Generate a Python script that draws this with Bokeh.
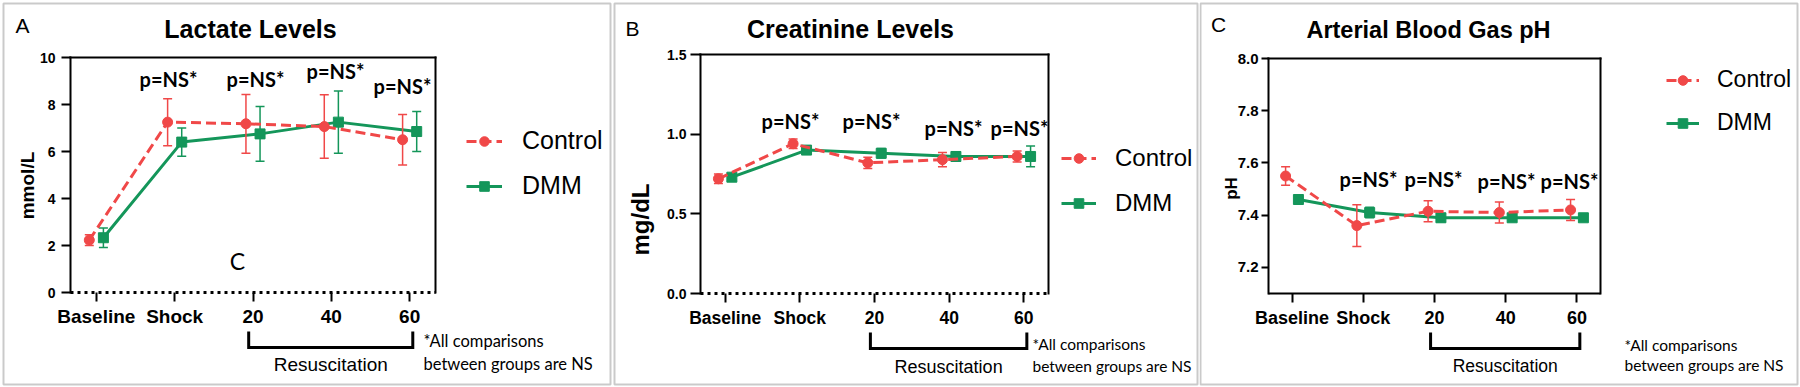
import math
from bokeh.plotting import figure
from bokeh.models import (Range1d, FixedTicker, LinearAxis, Label, Legend, LegendItem,
                          NumeralTickFormatter, BasicTickFormatter, BoxAnnotation)
from bokeh.layouts import row
from bokeh.embed import file_html
from bokeh.resources import INLINE

# ---------------- data ----------------
timepoints = ["Baseline", "Shock", "20", "40", "60"]
resus_span = ("20", "60")
series_names = ["Control", "DMM"]

lactate_control = [2.23, 7.25, 7.18, 7.06, 6.50]
lactate_control_err = [0.23, 1.00, 1.25, 1.35, 1.07]
lactate_dmm = [2.33, 6.40, 6.75, 7.25, 6.85]
lactate_dmm_err = [0.42, 0.60, 1.17, 1.32, 0.85]
lactate_yticks = [0, 2, 4, 6, 8, 10]

creatinine_control = [0.72, 0.94, 0.82, 0.84, 0.86]
creatinine_control_err = [0.03, 0.03, 0.035, 0.045, 0.035]
creatinine_dmm = [0.73, 0.90, 0.88, 0.86, 0.86]
creatinine_dmm_err = [0.02, 0.02, 0.03, 0.03, 0.065]
creatinine_yticks = [0.0, 0.5, 1.0, 1.5]

ph_control = [7.55, 7.36, 7.415, 7.41, 7.42]
ph_control_err = [0.035, 0.08, 0.04, 0.04, 0.04]
ph_dmm = [7.46, 7.41, 7.39, 7.39, 7.39]
ph_dmm_err = [0.015, 0.02, 0.015, 0.01, 0.01]
ph_yticks = [7.2, 7.4, 7.6, 7.8, 8.0]

pvalue_text = "p=NS*"
footnote_lines = ["*All comparisons", "between groups are NS"]
bracket_label = "Resuscitation"

# ---------------- style / layout ----------------
RED = "#F04848"
GREEN = "#14965A"
BORDER = "#505050"
DODGE = 0.09
ARIAL = "Liberation Sans"
CALIBRI = "Lato"
H = 387

panels = [
    dict(fig_x=0, width=612, box=(70, 57, 435, 292), border=(3, 3, 610, 384), yrange=(0, 10),
         yticks=lactate_yticks, yfmt=BasicTickFormatter(), ytick_len=9, ylab_standoff=6, ylab_fs=14,
         xdash="3 4", xlab_fs=19, xlab_standoff=4,
         bracket=(331, 347), br_label_y=364, br_fs=19,
         leg_left=466, leg_bottom=200, glyph_w=36, leg_fs=25, leg_standoff=20, leg_spacing=16,
         title="Lactate Levels", title_xy=(250, 28), title_fs=25,
         letter="A", letter_xy=(22, 25),
         ylabel="mmol/L", ylabel_xy=(27, 185), ylabel_fs=19,
         pns=[(168, 78), (255, 78), (335, 70), (402, 85)],
         foot_x=423, foot_y=(340, 363), foot_fs=16.5,
         extra=[("C", 237, 260, 23)],
         control=lactate_control, control_err=lactate_control_err,
         dmm=lactate_dmm, dmm_err=lactate_dmm_err),
    dict(fig_x=612, width=587, box=(700, 54, 1048, 293), border=(614, 3, 1197, 384), yrange=(0, 1.5),
         yticks=creatinine_yticks, yfmt=NumeralTickFormatter(format="0.0"), ytick_len=10, ylab_standoff=4, ylab_fs=14,
         xdash="3 4", xlab_fs=17.5, xlab_standoff=5,
         bracket=(332, 348), br_label_y=366, br_fs=18,
         leg_left=1061, leg_bottom=217, glyph_w=35, leg_fs=24, leg_standoff=19, leg_spacing=17,
         title="Creatinine Levels", title_xy=(850, 28), title_fs=25,
         letter="B", letter_xy=(632, 28),
         ylabel="mg/dL", ylabel_xy=(640, 219), ylabel_fs=24,
         pns=[(790, 120), (871, 120), (953, 127), (1019, 127)],
         foot_x=1032, foot_y=(343, 365), foot_fs=15.5,
         extra=[],
         control=creatinine_control, control_err=creatinine_control_err,
         dmm=creatinine_dmm, dmm_err=creatinine_dmm_err),
    dict(fig_x=1199, width=601, box=(1268, 58, 1600, 293), border=(1200, 3, 1797, 384), yrange=(7.1, 8.0),
         yticks=ph_yticks, yfmt=NumeralTickFormatter(format="0.0"), ytick_len=7, ylab_standoff=3, ylab_fs=15,
         xdash="solid", xlab_fs=18, xlab_standoff=5,
         bracket=(332, 348), br_label_y=365, br_fs=17.5,
         leg_left=1666, leg_bottom=136, glyph_w=33, leg_fs=23, leg_standoff=18, leg_spacing=16,
         title="Arterial Blood Gas pH", title_xy=(1428, 29), title_fs=23.5,
         letter="C", letter_xy=(1218, 24),
         ylabel="pH", ylabel_xy=(1231, 188), ylabel_fs=17,
         pns=[(1368, 178), (1433, 178), (1506, 180), (1569, 180)],
         foot_x=1624, foot_y=(344, 364), foot_fs=15.5,
         extra=[],
         control=ph_control, control_err=ph_control_err,
         dmm=ph_dmm, dmm_err=ph_dmm_err),
]


def build(cfg):
    fx, W = cfg["fig_x"], cfg["width"]
    bx0, by0, bx1, by1 = cfg["box"]
    xr = (-0.33, 4.33)
    yr = cfg["yrange"]
    kx = (xr[1] - xr[0]) / (bx1 - bx0)
    ky = (yr[1] - yr[0]) / (by1 - by0)

    def dx(rx):
        return xr[0] + (rx - bx0) * kx

    def dy(ry):
        return yr[1] - (ry - by0) * ky

    p = figure(width=W, height=H, output_backend="svg", toolbar_location=None,
               x_range=Range1d(dx(fx), dx(fx + W)), y_range=Range1d(dy(H), dy(0)),
               x_axis_type=None, y_axis_type=None, min_border=0, title_location=None,
               outline_line_color=None, background_fill_color="white",
               border_fill_color="white")

    def text(rx, ry, s, font, size, style="normal", align="left", angle=0.0):
        p.add_layout(Label(x=dx(rx), y=dy(ry), text=s, text_font=font, text_font_size=f"{size}px",
                           text_font_style=style, text_align=align, text_baseline="middle",
                           angle=angle, text_color="black"))

    # panel border
    L, T, R, B = cfg["border"]
    p.add_layout(BoxAnnotation(left=dx(L), right=dx(R), top=dy(T), bottom=dy(B),
                               fill_alpha=0, fill_color=None, line_color=BORDER, line_width=2))

    common = dict(axis_line_color="black", major_tick_line_color="black",
                  minor_tick_line_color=None, major_label_text_color="black",
                  major_label_text_font=ARIAL, major_label_text_font_style="bold")

    yax = LinearAxis(fixed_location=xr[0], bounds=yr,
                     ticker=FixedTicker(ticks=cfg["yticks"]), formatter=cfg["yfmt"],
                     axis_line_width=2, major_tick_line_width=2, axis_line_cap="square",
                     major_tick_in=0, major_tick_out=cfg["ytick_len"],
                     major_label_standoff=cfg["ylab_standoff"],
                     major_label_text_font_size=f"{cfg['ylab_fs']}px", **common)
    p.add_layout(yax, "left")

    xax = LinearAxis(fixed_location=yr[0], bounds=xr,
                     ticker=FixedTicker(ticks=list(range(len(timepoints)))),
                     major_label_overrides={i: t for i, t in enumerate(timepoints)},
                     axis_line_width=3 if cfg["xdash"] != "solid" else 2,
                     axis_line_dash=cfg["xdash"], major_tick_line_width=2,
                     major_tick_in=0, major_tick_out=9,
                     major_label_standoff=cfg["xlab_standoff"],
                     major_label_text_font_size=f"{cfg['xlab_fs']}px", **common)
    p.add_layout(xax, "below")

    top = LinearAxis(fixed_location=yr[1], bounds=xr, ticker=FixedTicker(ticks=[]),
                     axis_line_width=2, axis_line_color="black", axis_line_cap="square",
                     major_tick_line_color=None, minor_tick_line_color=None)
    p.add_layout(top, "above")
    right = LinearAxis(fixed_location=xr[1], bounds=yr, ticker=FixedTicker(ticks=[]),
                       axis_line_width=2, axis_line_color="black", axis_line_cap="square",
                       major_tick_line_color=None, minor_tick_line_color=None)
    p.add_layout(right, "right")

    xs = list(range(len(timepoints)))

    def series(offset, ys, es, color, dash, marker):
        xx = [i + offset for i in xs]
        lo = [y - e for y, e in zip(ys, es)]
        hi = [y + e for y, e in zip(ys, es)]
        p.segment(x0=xx, y0=lo, x1=xx, y1=hi, line_color=color, line_width=1.5)
        p.scatter(x=xx + xx, y=lo + hi, marker="dash", size=9, line_color=color, line_width=1.5)
        ln = p.line(xx, ys, line_color=color, line_width=3, line_dash=dash)
        sc = p.scatter(xx, ys, marker=marker, size=10, fill_color=color, line_color=color)
        return ln, sc

    ld, sd = series(DODGE, cfg["dmm"], cfg["dmm_err"], GREEN, "solid", "square")
    lc, scc = series(-DODGE, cfg["control"], cfg["control_err"], RED, "10 5", "circle")

    # resuscitation bracket spanning the 20..60 time points
    i0 = timepoints.index(resus_span[0]) - 0.055
    i1 = timepoints.index(resus_span[1]) + 0.04
    yt, yb = cfg["bracket"]
    p.line([i0, i0, i1, i1], [dy(yt), dy(yb), dy(yb), dy(yt)], line_color="black",
           line_width=3, line_join="miter")
    p.add_layout(Label(x=(i0 + i1) / 2, y=dy(cfg["br_label_y"]), text=bracket_label,
                       text_font=ARIAL, text_font_size=f"{cfg['br_fs']}px",
                       text_align="center", text_baseline="middle", text_color="black"))

    leg = Legend(items=[LegendItem(label=series_names[0], renderers=[lc, scc]),
                        LegendItem(label=series_names[1], renderers=[ld, sd])],
                 location=(cfg["leg_left"] - fx, H - cfg["leg_bottom"]), orientation="vertical",
                 glyph_width=cfg["glyph_w"], glyph_height=24, label_height=24,
                 label_standoff=cfg["leg_standoff"], spacing=cfg["leg_spacing"],
                 padding=0, margin=0, border_line_color=None, background_fill_alpha=0,
                 label_text_font=ARIAL, label_text_font_size=f"{cfg['leg_fs']}px",
                 label_text_color="black")
    p.add_layout(leg)

    tx, ty = cfg["title_xy"]
    text(tx, ty, cfg["title"], ARIAL, cfg["title_fs"], "bold", "center")
    lx, ly = cfg["letter_xy"]
    text(lx, ly, cfg["letter"], ARIAL, 21, "normal", "center")
    yx, yy = cfg["ylabel_xy"]
    text(yx, yy, cfg["ylabel"], ARIAL, cfg["ylabel_fs"], "bold", "center", math.pi / 2)
    for (px, py) in cfg["pns"]:
        text(px, py, pvalue_text, CALIBRI, 20, "bold", "center")
    for line, fy in zip(footnote_lines, cfg["foot_y"]):
        text(cfg["foot_x"], fy, line, CALIBRI, cfg["foot_fs"], "normal", "left")
    for (s, ex, ey, fs) in cfg["extra"]:
        text(ex, ey, s, CALIBRI, fs, "normal", "center")
    return p


figs = [build(c) for c in panels]
layout = row(*figs, spacing=0)
open("out.html", "w").write(file_html(layout, INLINE))
